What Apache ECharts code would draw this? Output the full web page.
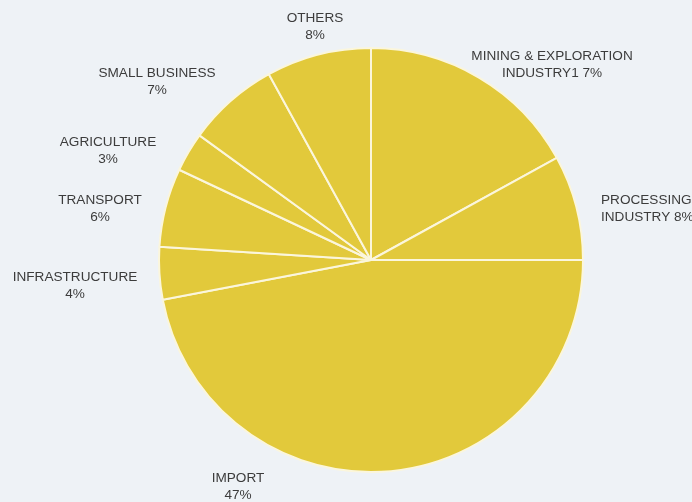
<!DOCTYPE html>
<html>
<head>
<meta charset="utf-8">
<script src="https://cdn.jsdelivr.net/npm/echarts@6/dist/echarts.min.js"></script>
<style>
html,body{margin:0;padding:0;background:#eef2f6;}
#c{width:692px;height:502px;}
</style>
</head>
<body>
<div id="c"></div>
<script>
const categories = ['MINING & EXPLORATION INDUSTRY','PROCESSING INDUSTRY','IMPORT','INFRASTRUCTURE','TRANSPORT','AGRICULTURE','SMALL BUSINESS','OTHERS'];
const values = [17, 8, 47, 4, 6, 3, 7, 8];
const labelTexts = ['MINING & EXPLORATION\nINDUSTRY1 7%','PROCESSING\nINDUSTRY 8%','IMPORT\n47%','INFRASTRUCTURE\n4%','TRANSPORT\n6%','AGRICULTURE\n3%','SMALL BUSINESS\n7%','OTHERS\n8%'];

// label anchor positions (layout only)
const labelPos = [
  {x:552, y:65, align:'center'},
  {x:601, y:209, align:'left'},
  {x:238, y:487, align:'center'},
  {x:75, y:286, align:'center'},
  {x:100, y:209, align:'center'},
  {x:108, y:151, align:'center'},
  {x:157, y:82, align:'center'},
  {x:315, y:27, align:'center'}
];

const chart = echarts.init(document.getElementById('c'));
chart.setOption({
  backgroundColor:'#eef2f6',
  animation:false,
  series:[{
    type:'pie',
    center:[371,260],
    radius:[0,212],
    startAngle:90,
    clockwise:true,
    avoidLabelOverlap:false,
    itemStyle:{color:'#e2c93b', borderColor:'#fbf6dc', borderWidth:2},
    label:{
      show:true,
      position:'outside',
      color:'#3c3c3c',
      fontFamily:"'Liberation Sans', sans-serif",
      fontSize:13.6,
      lineHeight:17,
      align:'center',
      formatter:function(p){return labelTexts[p.dataIndex];}
    },
    labelLine:{show:false},
    labelLayout:function(p){
      const lp = labelPos[p.dataIndex];
      return {x:lp.x, y:lp.y, align:lp.align, verticalAlign:'middle'};
    },
    emphasis:{disabled:true},
    data:categories.map((n,i)=>({name:n, value:values[i]}))
  }]
});
</script>
</body>
</html>
